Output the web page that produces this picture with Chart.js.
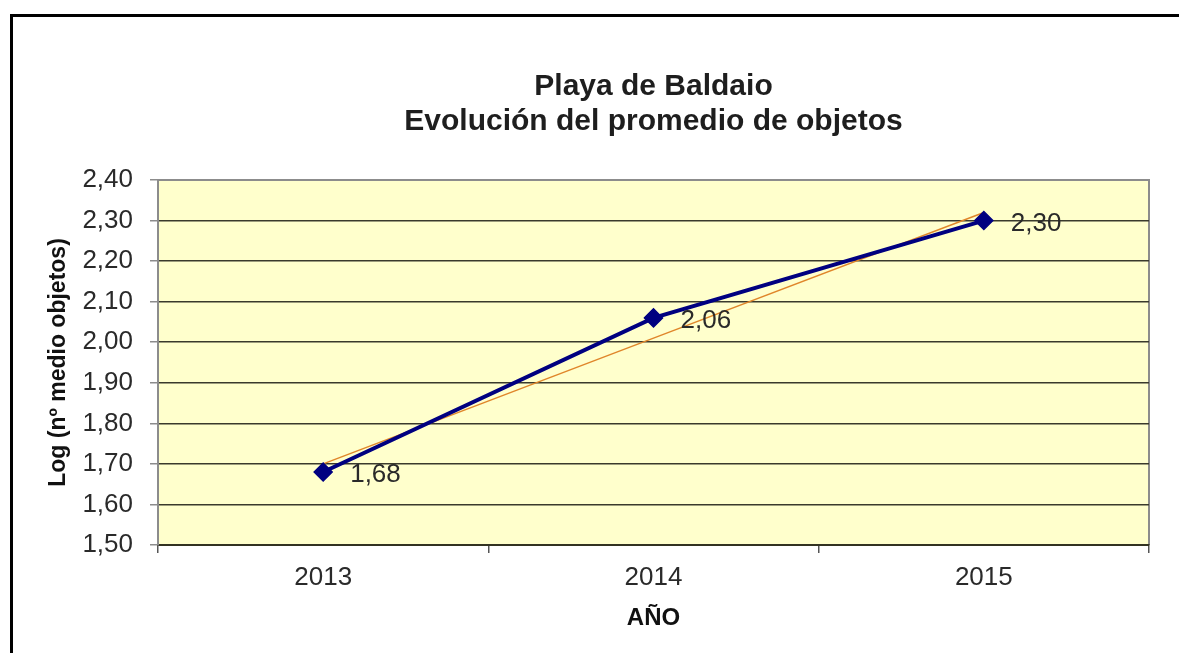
<!DOCTYPE html>
<html>
<head>
<meta charset="utf-8">
<script src="https://cdn.jsdelivr.net/npm/chart.js@4.4.1/dist/chart.umd.min.js"></script>
<style>
  html, body { margin: 0; padding: 0; background: #ffffff; }
  #wrap { position: relative; width: 1179px; height: 653px; overflow: hidden; }
  #frame { position: absolute; left: 10px; top: 14px; right: -10px; bottom: -10px;
           border-top: 3px solid #000; border-left: 3px solid #000; }
  canvas { position: absolute; left: 0; top: 0; }
</style>
</head>
<body>
<div id="wrap">
  <div id="frame"></div>
  <canvas id="c" width="1179" height="653"></canvas>
</div>
<script>
const titleLines = ['Playa de Baldaio', 'Evolución del promedio de objetos'];
const categories = ['2013', '2014', '2015'];
const values = [1.68, 2.06, 2.30];
const valueLabels = ['1,68', '2,06', '2,30'];
const trendValues = [1.70, 2.01, 2.32];
const yTitle = 'Log (nº medio objetos)';
const xTitle = 'AÑO';
const yMin = 1.5, yMax = 2.4, yStep = 0.1;

const FONT = "'Liberation Sans', Arial, sans-serif";

const plotBg = {
  id: 'plotBg',
  beforeDraw(chart) {
    const a = chart.chartArea, ctx = chart.ctx;
    ctx.save();
    ctx.fillStyle = '#FFFFCC';
    ctx.fillRect(a.left, a.top, a.right - a.left, a.bottom - a.top);
    ctx.strokeStyle = '#8c8c8c';
    ctx.lineWidth = 2;
    ctx.beginPath();
    ctx.moveTo(a.left, a.top);
    ctx.lineTo(a.right, a.top);
    ctx.lineTo(a.right, a.bottom);
    ctx.stroke();
    ctx.restore();
  }
};

const pointLabels = {
  id: 'pointLabels',
  afterDatasetsDraw(chart) {
    const meta = chart.getDatasetMeta(0);
    const ctx = chart.ctx;
    ctx.save();
    ctx.font = '26px ' + FONT;
    ctx.fillStyle = '#2a2a2a';
    ctx.textAlign = 'left';
    ctx.textBaseline = 'middle';
    meta.data.forEach((pt, i) => {
      ctx.fillText(valueLabels[i], pt.x + 27, pt.y + 3);
    });
    ctx.restore();
  }
};

new Chart(document.getElementById('c'), {
  type: 'line',
  data: {
    labels: categories,
    datasets: [
      {
        data: values,
        borderColor: '#000080',
        backgroundColor: '#000080',
        borderWidth: 4,
        pointStyle: 'rectRot',
        pointRadius: 9,
        pointBorderWidth: 1.5,
        pointBorderColor: '#000080',
        fill: false,
        tension: 0,
        order: 0
      },
      {
        data: trendValues,
        borderColor: '#E0862A',
        borderWidth: 1.5,
        pointRadius: 0,
        fill: false,
        tension: 0,
        order: 1
      }
    ]
  },
  options: {
    responsive: false,
    animation: false,
    layout: { padding: { left: 40, right: 30, top: 60, bottom: 16 } },
    plugins: {
      legend: { display: false },
      tooltip: { enabled: false },
      title: {
        display: true,
        text: titleLines,
        fullSize: false,
        color: '#1e1e1e',
        font: { family: FONT, size: 30, weight: 'bold', lineHeight: 35 / 30 },
        padding: { top: 9, bottom: 41 }
      }
    },
    scales: {
      x: {
        offset: true,
        grid: {
          offset: true,
          drawOnChartArea: false,
          drawTicks: true,
          tickLength: 8,
          color: '#555555',
          lineWidth: 1.5
        },
        border: { display: true, color: '#333322', width: 2 },
        ticks: {
          color: '#2a2a2a',
          padding: 9,
          font: { family: FONT, size: 26 }
        },
        title: {
          display: true,
          text: xTitle,
          color: '#111111',
          font: { family: FONT, size: 24, weight: 'bold' },
          padding: { top: 4, bottom: 4 }
        },
        afterFit(scale) { scale.height = 92; }
      },
      y: {
        min: yMin,
        max: yMax,
        ticks: {
          stepSize: yStep,
          color: '#2a2a2a',
          padding: 17,
          font: { family: FONT, size: 26 },
          callback: (v) => Number(v).toFixed(2).replace('.', ',')
        },
        grid: {
          color: (c) => (c.tick && Math.abs(c.tick.value - yMax) < 1e-6) ? '#8c8c8c' : '#3a3a2c',
          lineWidth: 1.5,
          tickLength: 8,
          tickColor: '#8c8c8c',
          drawTicks: true
        },
        border: { display: true, color: '#8c8c8c', width: 2 },
        title: {
          display: true,
          text: yTitle,
          color: '#111111',
          font: { family: FONT, size: 23, weight: 'bold' },
          padding: { top: 5, bottom: 4 }
        },
        afterFit(scale) { scale.width = 118; }
      }
    }
  },
  plugins: [plotBg, pointLabels]
});
</script>
</body>
</html>
